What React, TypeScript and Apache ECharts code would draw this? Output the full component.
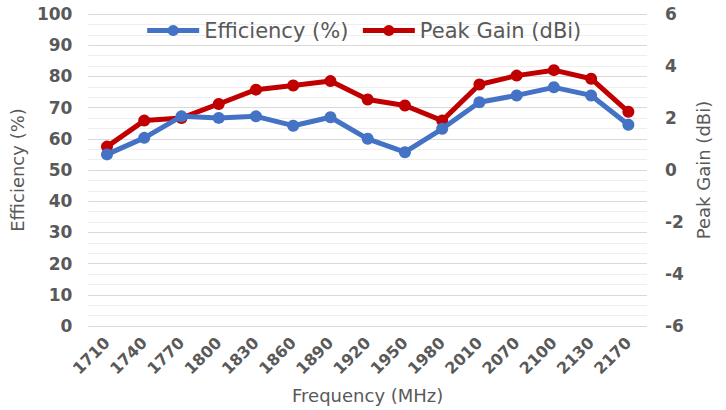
import React, { useEffect, useRef } from "react";
import * as echarts from "echarts";

const categories = ["1710", "1740", "1770", "1800", "1830", "1860", "1890", "1920", "1950", "1980", "2010", "2070", "2100", "2130", "2170"];
const efficiency = [55, 60.3, 67.2, 66.7, 67.2, 64.2, 66.9, 60, 55.7, 63.2, 71.7, 73.9, 76.5, 73.9, 64.5];
const peakGain = [0.9, 1.9, 2.0, 2.54, 3.09, 3.25, 3.42, 2.71, 2.48, 1.9, 3.29, 3.63, 3.84, 3.51, 2.24];

const FONT = "DejaVu Sans";
const GRAY = "#595959";

export default function App() {
  const ref = useRef<HTMLDivElement>(null);
  useEffect(() => {
    if (!ref.current) return;
    const chart = echarts.init(ref.current, null, { renderer: "svg" });
    chart.setOption({
      animation: false,
      backgroundColor: "#ffffff",
      textStyle: { fontFamily: FONT },
      legend: {
        top: 15,
        left: "center",
        itemWidth: 52,
        itemHeight: 14,
        itemGap: 12,
        lineStyle: { width: 5 },
        textStyle: { fontFamily: FONT, fontSize: 21, color: GRAY },
        data: ["Efficiency (%)", "Peak Gain (dBi)"],
      },
      grid: { left: 80, right: 79, top: 14, bottom: 84 },
      xAxis: {
        type: "category",
        data: categories,
        boundaryGap: true,
        axisLine: { show: false },
        axisTick: { show: false },
        axisLabel: { rotate: 45, margin: 14, fontFamily: FONT, fontSize: 16, fontWeight: "bold", color: GRAY, interval: 0 },
        name: "Frequency (MHz)",
        nameLocation: "middle",
        nameGap: 60,
        nameTextStyle: { fontFamily: FONT, fontSize: 18, color: GRAY },
      },
      yAxis: [
        {
          type: "value",
          min: 0,
          max: 100,
          interval: 10,
          z: 1,
          axisLine: { show: false },
          axisTick: { show: false },
          axisLabel: { margin: 16, fontFamily: FONT, fontSize: 17, fontWeight: "bold", color: GRAY },
          splitLine: { show: true, lineStyle: { color: "#d9d9d9", width: 1.2 } },
          name: "Efficiency (%)",
          nameLocation: "middle",
          nameRotate: 90,
          nameGap: 47,
          nameTextStyle: { fontFamily: FONT, fontSize: 18, color: GRAY },
        },
        {
          type: "value",
          min: -6,
          max: 6,
          interval: 2,
          position: "right",
          z: 0,
          axisLine: { show: false },
          axisTick: { show: false },
          axisLabel: { margin: 18, fontFamily: FONT, fontSize: 17, fontWeight: "bold", color: GRAY },
          splitLine: { show: true, lineStyle: { color: "#eeeeee", width: 1 } },
          minorTick: { show: false, splitNumber: 5 },
          minorSplitLine: { show: true, lineStyle: { color: "#eeeeee", width: 1 } },
          name: "Peak Gain (dBi)",
          nameLocation: "middle",
          nameRotate: 90,
          nameGap: 44,
          nameTextStyle: { fontFamily: FONT, fontSize: 18, color: GRAY },
        },
      ],
      series: [
        {
          name: "Efficiency (%)",
          type: "line",
          yAxisIndex: 0,
          data: efficiency,
          symbol: "circle",
          symbolSize: 12,
          color: "#4472C4",
          lineStyle: { width: 5, color: "#4472C4" },
          itemStyle: { color: "#4472C4" },
          z: 3,
        },
        {
          name: "Peak Gain (dBi)",
          type: "line",
          yAxisIndex: 1,
          data: peakGain,
          symbol: "circle",
          symbolSize: 12,
          color: "#C00000",
          lineStyle: { width: 5, color: "#C00000" },
          itemStyle: { color: "#C00000" },
          z: 2,
        },
      ],
    });
    return () => chart.dispose();
  }, []);
  return (
    <div
      ref={ref}
      style={{ position: "fixed", left: 0, top: 0, width: 726, height: 410, background: "#fff" }}
    />
  );
}
